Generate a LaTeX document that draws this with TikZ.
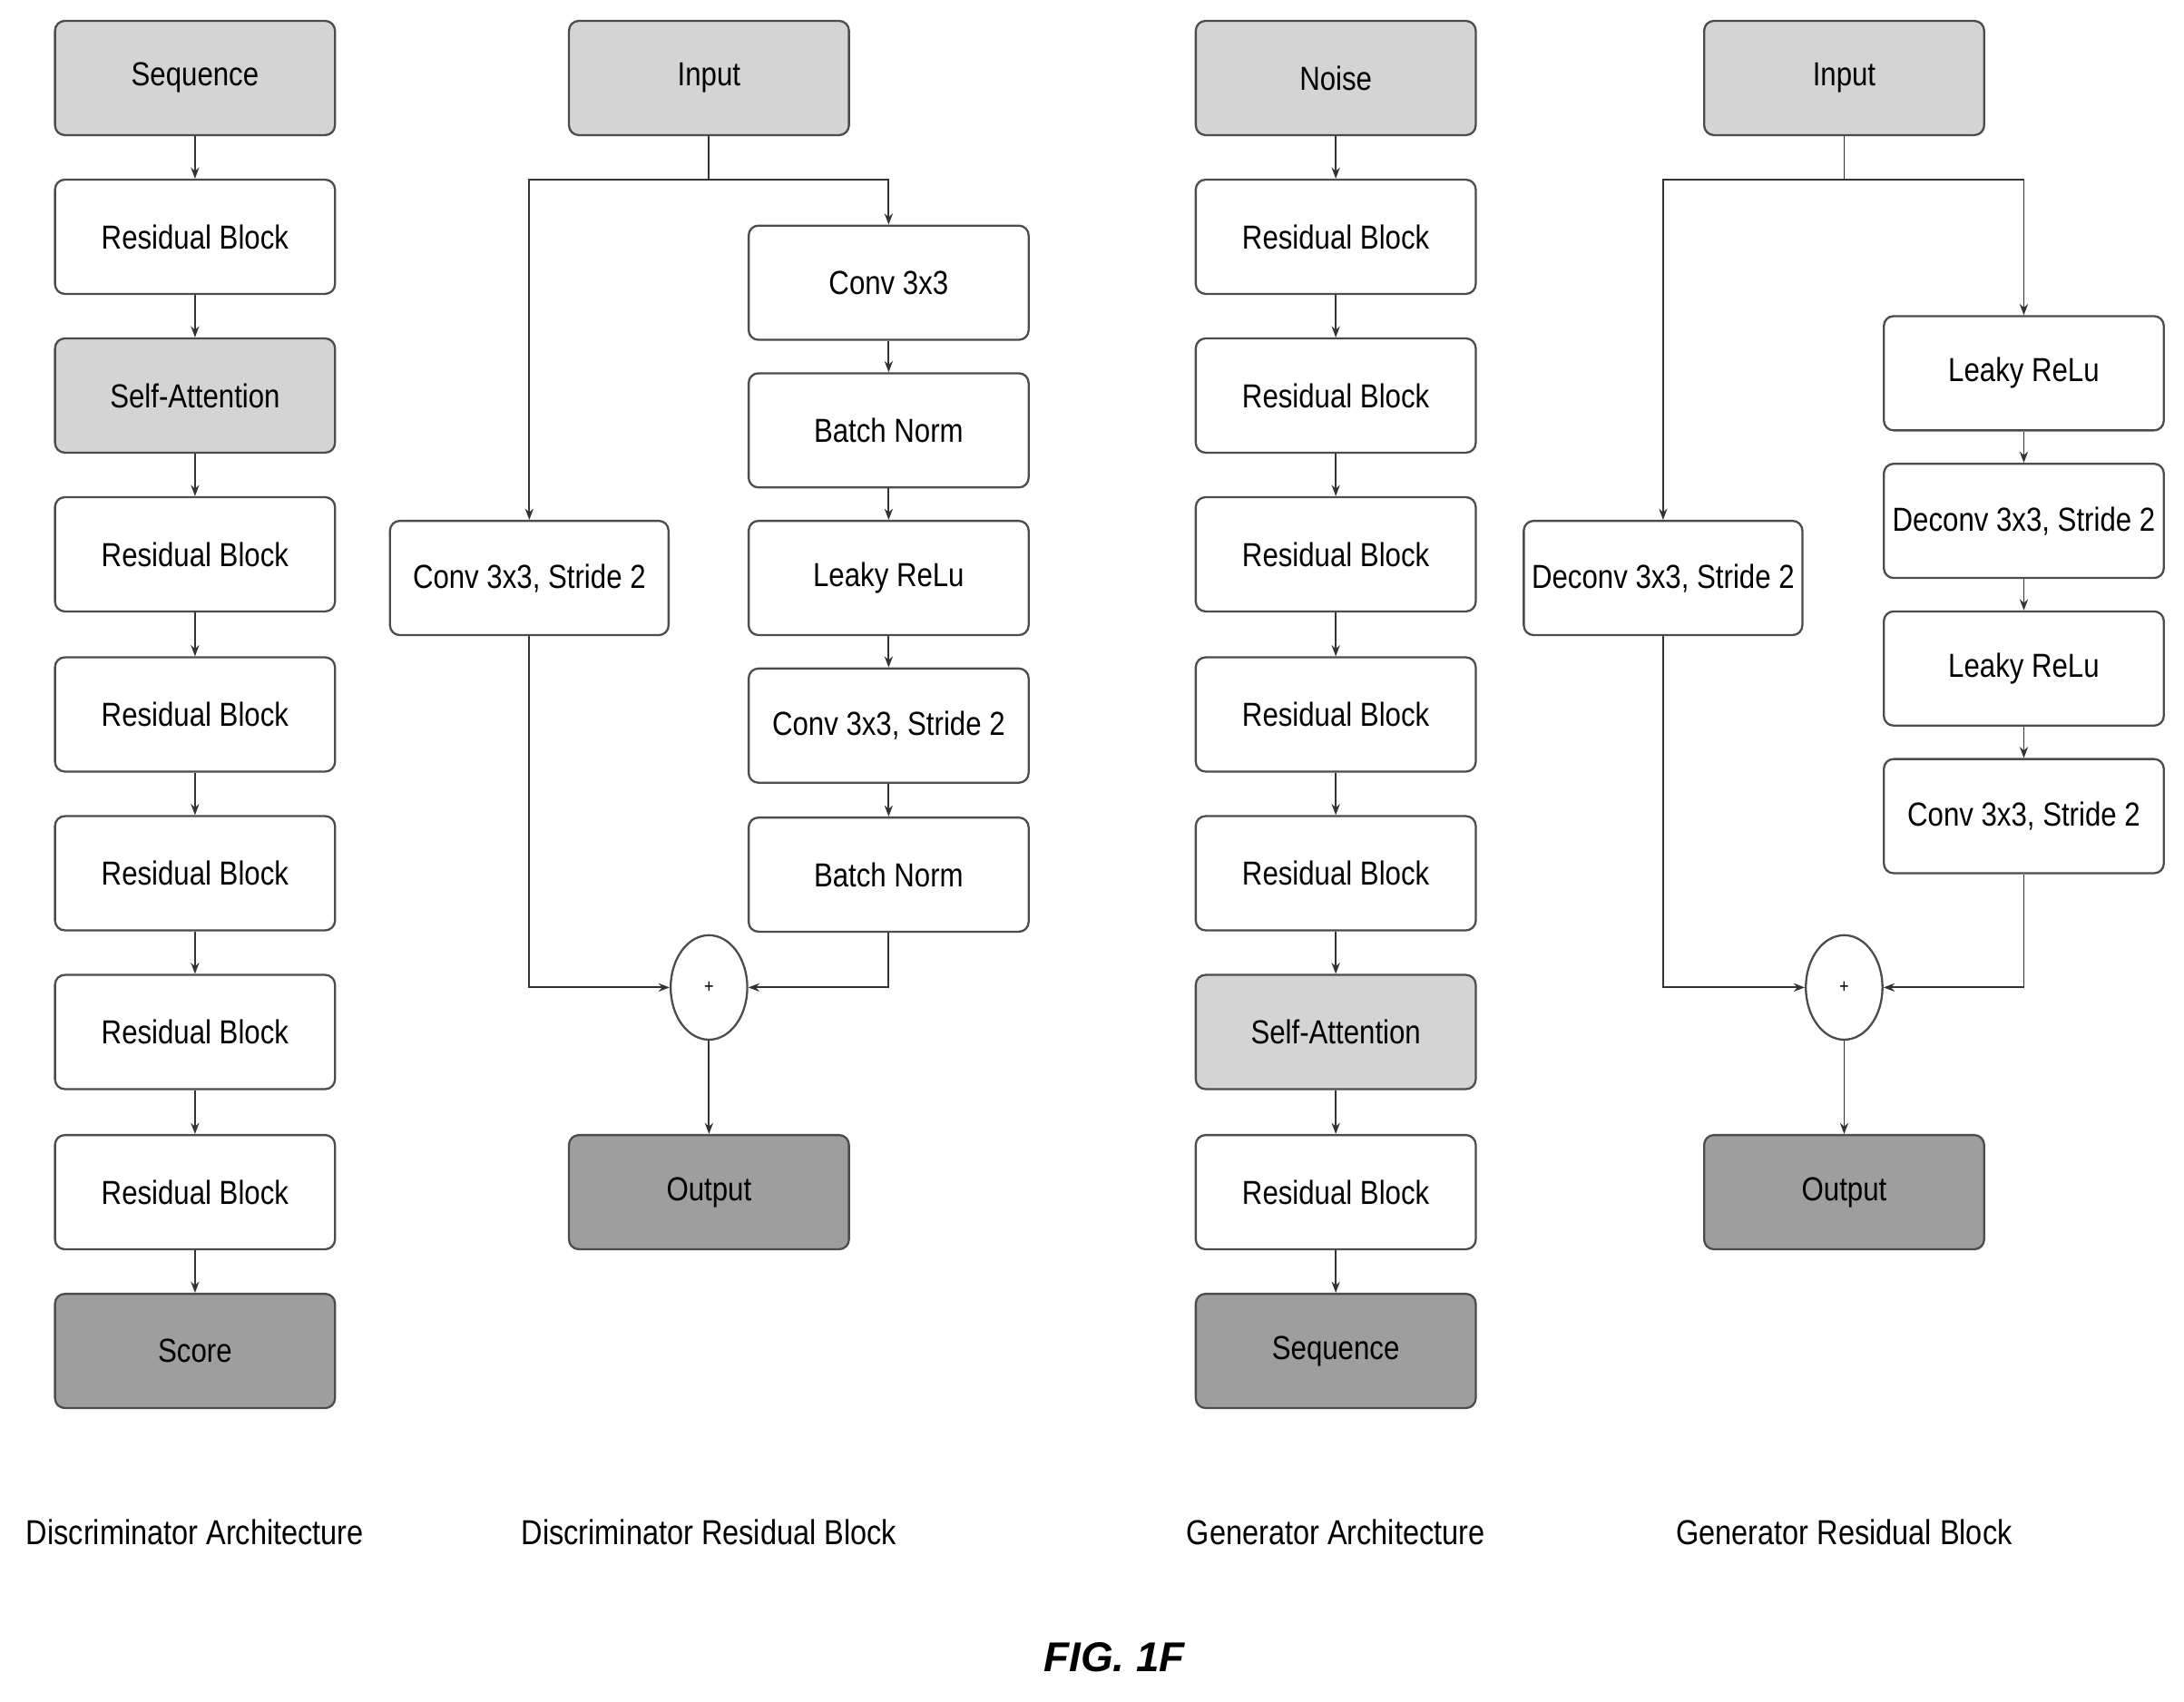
\documentclass[tikz,border=0pt]{standalone}
\usepackage{fontspec}
\setmainfont{Liberation Sans}[FakeStretch=0.85]
\newfontfamily\figfont{Liberation Sans}
\usetikzlibrary{arrows.meta,shapes.geometric}
\begin{document}
\begin{tikzpicture}[x=1bp,y=-1bp,
  box/.style={draw=black!70,line width=1.5bp,rounded corners=7bp,minimum width=201bp,minimum height=82bp,inner sep=0,font=\fontsize{24}{28}\selectfont},
  lt/.style={box,fill=black!17},
  dk/.style={box,fill=black!38},
  arr/.style={draw=black!80,line width=1.2bp,-{Stealth[length=8bp,width=6bp]}},
  ln/.style={draw=black!80,line width=1.2bp},
  plus/.style={draw=black!70,line width=1.5bp,ellipse,minimum width=55bp,minimum height=75bp,inner sep=0,font=\fontsize{14}{14}\selectfont},
  captxt/.style={font=\fontsize{25}{28}\selectfont}]
\useasboundingbox (0,0) rectangle (1568,1222);
% Discriminator architecture
\node[lt] (d0) at (140,56) {Sequence};
\node[box] (d1) at (140,170) {Residual Block};
\node[lt] (d2) at (140,284) {Self-Attention};
\node[box] (d3) at (140,398) {Residual Block};
\node[box] (d4) at (140,513) {Residual Block};
\node[box] (d5) at (140,627) {Residual Block};
\node[box] (d6) at (140,741) {Residual Block};
\node[box] (d7) at (140,856) {Residual Block};
\node[dk] (d8) at (140,970) {Score};
\foreach \a/\b in {d0/d1,d1/d2,d2/d3,d3/d4,d4/d5,d5/d6,d6/d7,d7/d8} \draw[arr] (\a) -- (\b);
% Generator architecture
\node[lt] (g0) at (959,56) {Noise};
\node[box] (g1) at (959,170) {Residual Block};
\node[box] (g2) at (959,284) {Residual Block};
\node[box] (g3) at (959,398) {Residual Block};
\node[box] (g4) at (959,513) {Residual Block};
\node[box] (g5) at (959,627) {Residual Block};
\node[lt] (g6) at (959,741) {Self-Attention};
\node[box] (g7) at (959,856) {Residual Block};
\node[dk] (g8) at (959,970) {Sequence};
\foreach \a/\b in {g0/g1,g1/g2,g2/g3,g3/g4,g4/g5,g5/g6,g6/g7,g7/g8} \draw[arr] (\a) -- (\b);
% Discriminator residual block
\node[lt] (di) at (509,56) {Input};
\node[box,minimum width=200bp] (dl) at (380,415) {Conv 3x3, Stride 2};
\node[box] (r1) at (638,203) {Conv 3x3};
\node[box] (r2) at (638,309) {Batch Norm};
\node[box] (r3) at (638,415) {Leaky ReLu};
\node[box] (r4) at (638,521) {Conv 3x3, Stride 2};
\node[box] (r5) at (638,628) {Batch Norm};
\node[plus] (dp) at (509,709) {+};
\node[dk] (do) at (509,856) {Output};
\coordinate (dj) at (509,129);
\draw[ln] (di) -- (dj);
\draw[arr] (dj) -| (dl.north);
\draw[arr] (dj) -| (r1.north);
\foreach \a/\b in {r1/r2,r2/r3,r3/r4,r4/r5} \draw[arr] (\a) -- (\b);
\draw[arr] (dl.south) |- (dp.west);
\draw[arr] (r5.south) |- (dp.east);
\draw[arr] (dp) -- (do);
% Generator residual block
\node[lt] (gi) at (1324,56) {Input};
\node[box,minimum width=200bp] (gl) at (1194,415) {Deconv 3x3, Stride 2};
\node[box] (s1) at (1453,268) {Leaky ReLu};
\node[box] (s2) at (1453,374) {Deconv 3x3, Stride 2};
\node[box] (s3) at (1453,480) {Leaky ReLu};
\node[box] (s4) at (1453,586) {Conv 3x3, Stride 2};
\node[plus] (gp) at (1324,709) {+};
\node[dk] (go) at (1324,856) {Output};
\coordinate (gj) at (1324,129);
\draw[ln] (gi) -- (gj);
\draw[arr] (gj) -| (gl.north);
\draw[arr] (gj) -| (s1.north);
\foreach \a/\b in {s1/s2,s2/s3,s3/s4} \draw[arr] (\a) -- (\b);
\draw[arr] (gl.south) |- (gp.west);
\draw[arr] (s4.south) |- (gp.east);
\draw[arr] (gp) -- (go);
% captions
\node[captxt] (c1) at (140,1100) {Discriminator Architecture};
\node[captxt] (c2) at (509,1100) {Discriminator Residual Block};
\node[captxt] (c3) at (959,1100) {Generator Architecture};
\node[captxt] (c4) at (1324,1100) {Generator Residual Block};
\node[font=\figfont\fontsize{30}{34}\selectfont\bfseries\itshape] (fig) at (800,1190) {FIG. 1F};
\end{tikzpicture}
\end{document}
